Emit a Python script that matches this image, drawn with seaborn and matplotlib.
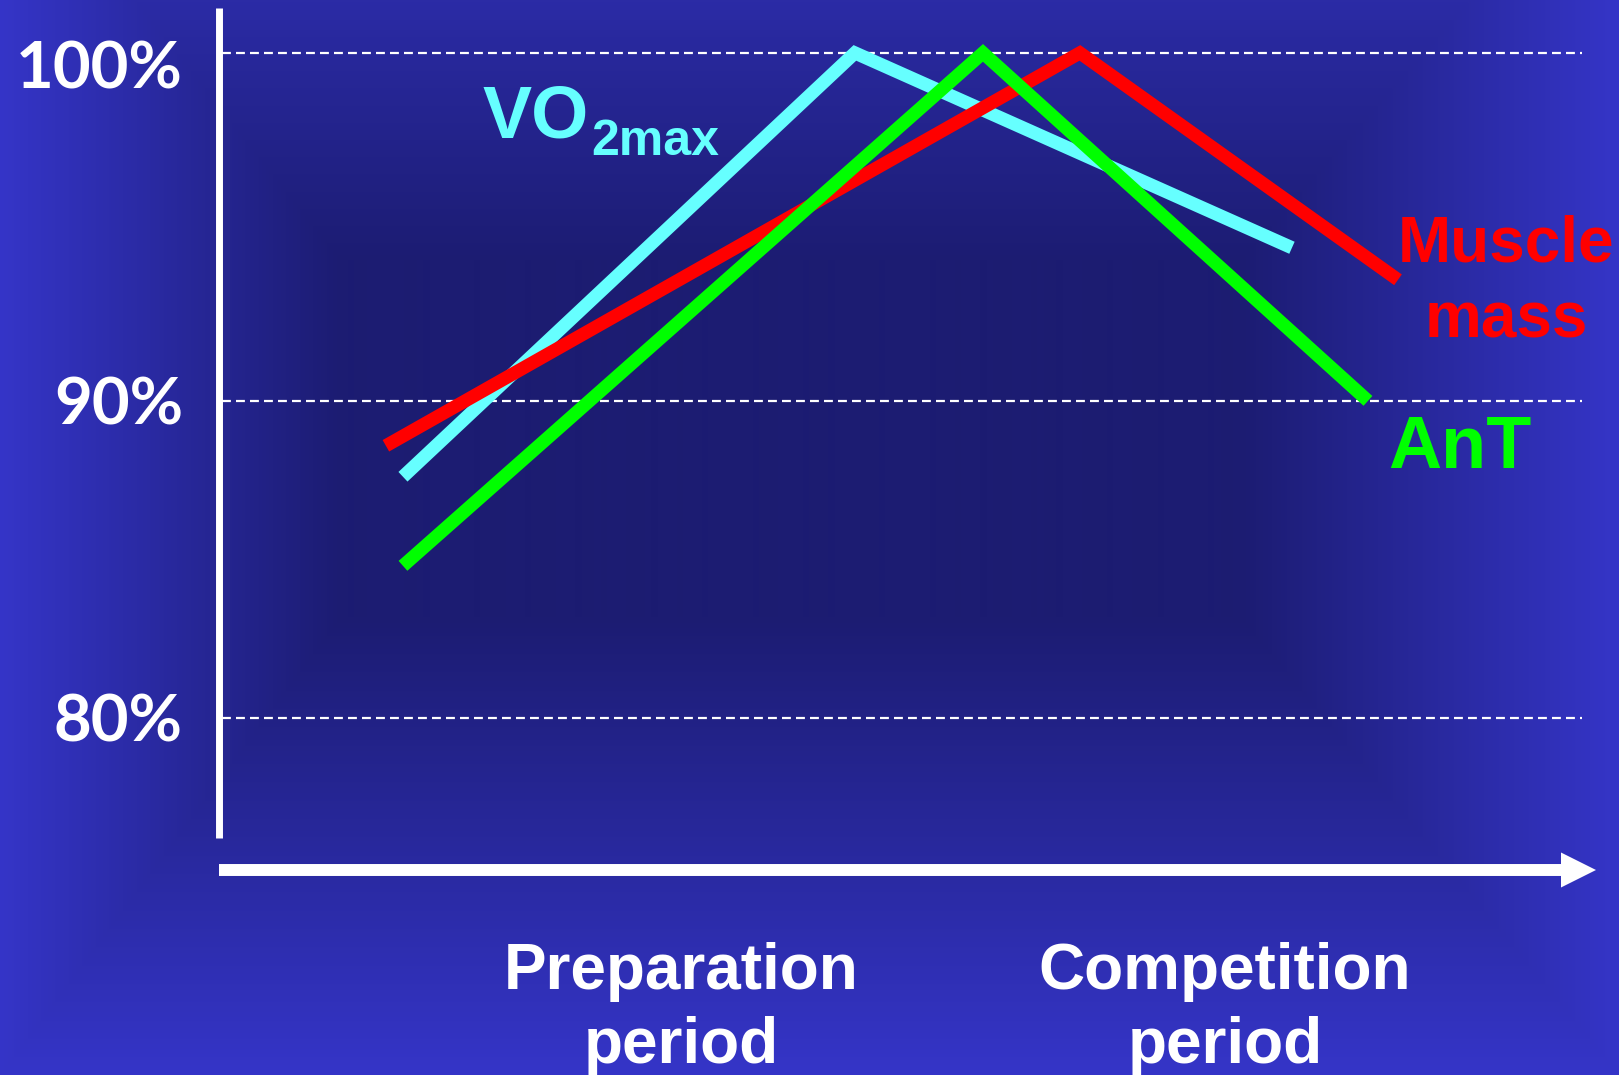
import numpy as np
import pandas as pd
import matplotlib
matplotlib.use("Agg")
import matplotlib.pyplot as plt
import seaborn as sns
from matplotlib.transforms import blended_transform_factory, ScaledTranslation

# ---------------- data ----------------
series_names = ["VO2max", "Muscle mass", "AnT"]
vo2_x = [6.68, 23.09, 38.96]
vo2_y = [87.82, 100.0, 94.40]
muscle_x = [6.06, 31.26, 42.81]
muscle_y = [88.71, 100.0, 93.48]
ant_x = [6.68, 27.74, 41.72]
ant_y = [85.26, 100.0, 90.0]

y_ticks = [80.9, 90.0, 100.0]
y_tick_labels = ["80%", "90%", "100%"]
period_x = [16.78, 36.53]
period_line1 = ["Preparation", "Competition"]
period_line2 = ["period", "period"]

colors = {"VO2max": "#66ffff", "Muscle mass": "#ff0000", "AnT": "#00ff00"}

df = pd.concat([
    pd.DataFrame({"x": vo2_x, "y": vo2_y, "series": "VO2max"}),
    pd.DataFrame({"x": muscle_x, "y": muscle_y, "series": "Muscle mass"}),
    pd.DataFrame({"x": ant_x, "y": ant_y, "series": "AnT"}),
], ignore_index=True)

# ---------------- figure ----------------
W, H = 1619, 1075
fig = plt.figure(figsize=(W / 100, H / 100), dpi=100)

def fx(px):
    return px / W

def fy(py):
    return 1 - py / H

# background gradient (decoration): rectangular gradient with dark plateau
bg = fig.add_axes([0, 0, 1, 1], zorder=-10)
yy, xx = np.mgrid[0:H, 0:W].astype(float)
tx = np.where(xx < 340, (340 - xx) / 340.0, np.where(xx > 1240, (xx - 1240) / 379.0, 0.0))
ty = np.where(yy < 260, (260 - yy) / 430.0, np.where(yy > 617, (yy - 617) / 458.0, 0.0))
t = np.clip(np.maximum(tx, ty), 0, 1)
dark = np.array([0x1c, 0x1c, 0x72]) / 255.0
edge = np.array([0x35, 0x35, 0xc8]) / 255.0
img = dark[None, None, :] + (edge - dark)[None, None, :] * t[..., None]
bg.imshow(img, extent=[0, W, H, 0], aspect="auto", interpolation="bilinear")
bg.set_axis_off()

ax = fig.add_axes([fx(219), fy(870), fx(1596) - fx(219), fy(8) - fy(870)])
ax.set_facecolor("none")

x_max = 50
y_lo, y_hi = 76.52, 101.29
ax.set_xlim(0, x_max)
ax.set_ylim(y_lo, y_hi)

# dashed gridlines
ax.hlines(y_ticks, 0.1, 49.5, colors="white", linewidth=1.6,
          linestyles=(0, (4, 2.3)), zorder=1)

sns.lineplot(data=df, x="x", y="y", hue="series", hue_order=series_names,
             palette=colors, linewidth=9.5, legend=False, estimator=None,
             sort=False, ax=ax, solid_capstyle="butt", solid_joinstyle="miter",
             zorder=3)

# axes styling
for s in ["top", "right", "bottom"]:
    ax.spines[s].set_visible(False)
ax.spines["left"].set_color("white")
ax.spines["left"].set_linewidth(5)
ax.spines["left"].set_bounds(77.44, y_hi)
ax.spines["left"].set_capstyle("butt")

ax.set_xticks([])
ax.set_yticks(y_ticks)
ax.set_yticklabels(y_tick_labels)
ax.tick_params(axis="y", length=0, pad=26, labelcolor="white")
for lab in ax.get_yticklabels():
    lab.set_fontfamily(["Lato", "DejaVu Sans"])
    lab.set_fontweight("bold")
    lab.set_fontsize(47)
ax.get_yticklabels()[2].set_transform(
    ax.get_yticklabels()[2].get_transform()
    + ScaledTranslation(0, -12 / 100, fig.dpi_scale_trans))
ax.set_xlabel("")
ax.set_ylabel("")

# x axis arrow
ax.annotate("", xy=(x_max, y_lo), xytext=(0, y_lo), xycoords="data",
            annotation_clip=False,
            arrowprops=dict(arrowstyle="simple,head_length=25.2,head_width=25.2,tail_width=8.6",
                            mutation_scale=1, fc="white", ec="none",
                            shrinkA=0, shrinkB=0))

arial = ["Liberation Sans", "DejaVu Sans"]

# series labels
fig.text(fx(482), fy(137), "VO", color="#66ffff", fontsize=53, fontweight="bold",
         family=arial, ha="left", va="baseline")
fig.text(fx(591), fy(155), "2max", color="#66ffff", fontsize=36, fontweight="bold",
         family=arial, ha="left", va="baseline")
fig.text(fx(1506), fy(262), "Muscle", color="#ff0000", fontsize=46, fontweight="bold",
         family=arial, ha="center", va="baseline")
fig.text(fx(1506), fy(338), "mass", color="#ff0000", fontsize=46, fontweight="bold",
         family=arial, ha="center", va="baseline")
fig.text(fx(1388), fy(468), "AnT", color="#00ff00", fontsize=53, fontweight="bold",
         family=arial, ha="left", va="baseline")

# period labels (category positions on the x axis)
trans = blended_transform_factory(ax.transData, fig.transFigure)
for xp, l1, l2 in zip(period_x, period_line1, period_line2):
    ax.text(xp, fy(989), l1, transform=trans, color="white", fontsize=46,
            fontweight="bold", family=arial, ha="center", va="baseline", clip_on=False)
    ax.text(xp, fy(1063), l2, transform=trans, color="white", fontsize=46,
            fontweight="bold", family=arial, ha="center", va="baseline", clip_on=False)

fig.savefig("out.png", dpi=100)
